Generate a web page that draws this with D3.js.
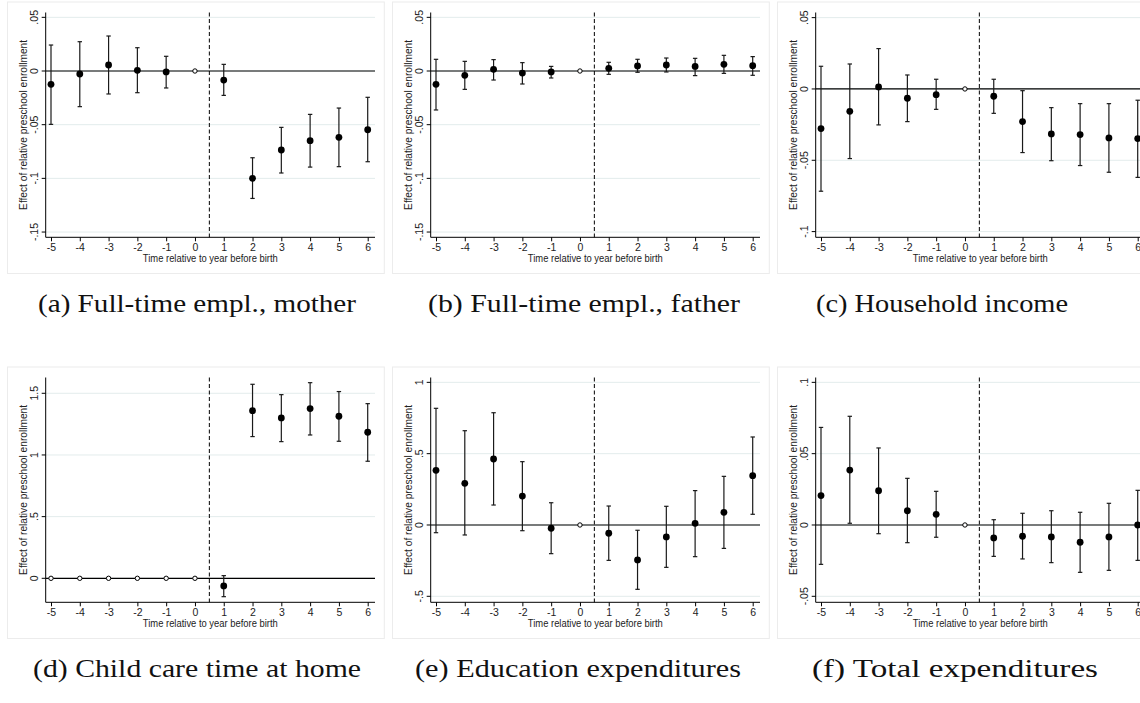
<!DOCTYPE html>
<html><head><meta charset="utf-8">
<script src="https://cdn.jsdelivr.net/npm/d3@7"></script>
<style>body{margin:0;background:#fff}svg{display:block}</style>
</head><body>
<svg id="c" width="1140" height="703"></svg>
<script>
// ---------- data ----------
const years = [-5,-4,-3,-2,-1,0,1,2,3,4,5,6];
const xTickLabels = ["-5","-4","-3","-2","-1","0","1","2","3","4","5","6"];
const xTitle = "Time relative to year before birth";
const yTitle = "Effect of relative preschool enrollment";

// (a) Full-time employment, mother
const coefA = [-0.0124,-0.0028,0.0056,0.0006,-0.0009,0,-0.0084,-0.100,-0.0736,-0.0649,-0.0618,-0.0547];
const lowA  = [-0.0497,-0.0332,-0.0214,-0.0202,-0.0158,null,-0.0227,-0.1187,-0.095,-0.0895,-0.0891,-0.0845];
const highA = [0.0242,0.0273,0.0326,0.0217,0.0137,null,0.0062,-0.0808,-0.0525,-0.0404,-0.0345,-0.0245];
// (b) Full-time employment, father
const coefB = [-0.0124,-0.004,0.0016,-0.0019,-0.0009,0,0.0025,0.0047,0.0056,0.0043,0.0062,0.005];
const lowB  = [-0.0363,-0.0171,-0.0084,-0.0121,-0.0065,null,-0.0031,-0.0012,-0.0009,-0.0043,-0.0022,-0.004];
const highB = [0.0109,0.009,0.0106,0.0078,0.0043,null,0.0081,0.0109,0.0121,0.0118,0.0146,0.0134];
// (c) Household income
const coefC = [-0.0278,-0.0157,0.0014,-0.0065,-0.004,0,-0.0051,-0.0229,-0.0315,-0.032,-0.0343,-0.0348];
const lowC  = [-0.0717,-0.0488,-0.0252,-0.0229,-0.0143,null,-0.0171,-0.0446,-0.0503,-0.0537,-0.0584,-0.062];
const highC = [0.0159,0.0175,0.0283,0.0098,0.0068,null,0.0068,-0.0012,-0.0131,-0.0103,-0.0103,-0.0079];
// (d) Child care time at home
const coefD = [0,0,0,0,0,0,-0.062,1.359,1.30,1.376,1.314,1.184];
const lowD  = [null,null,null,null,null,null,-0.149,1.149,1.108,1.162,1.111,0.949];
const highD = [null,null,null,null,null,null,0.0216,1.573,1.489,1.586,1.514,1.416];
// (e) Education expenditures
const coefE = [0.383,0.292,0.4625,0.203,-0.023,0,-0.058,-0.245,-0.084,0.012,0.089,0.346];
const lowE  = [-0.054,-0.070,0.140,-0.040,-0.201,null,-0.248,-0.451,-0.297,-0.222,-0.164,0.075];
const highE = [0.818,0.661,0.787,0.444,0.156,null,0.133,-0.037,0.131,0.241,0.341,0.617];
// (f) Total expenditures
const coefF = [0.0206,0.0385,0.024,0.010,0.0075,0,-0.0091,-0.0079,-0.0084,-0.0121,-0.0084,0];
const lowF  = [-0.0276,0.0012,-0.0061,-0.0124,-0.0086,null,-0.022,-0.0238,-0.0264,-0.0332,-0.0318,-0.0248];
const highF = [0.0684,0.0762,0.054,0.0327,0.0236,null,0.0037,0.0082,0.010,0.0089,0.0152,0.0243];

const yTicksA = [0.05,0,-0.05,-0.1,-0.15], yLabelsA = [".05","0","-.05","-.1","-.15"];
const yTicksC = [0.05,0,-0.05,-0.1],       yLabelsC = [".05","0","-.05","-.1"];
const yTicksD = [0,0.5,1,1.5],             yLabelsD = ["0",".5","1","1.5"];
const yTicksE = [1,0.5,0,-0.5],            yLabelsE = ["1",".5","0","-.5"];
const yTicksF = [0.1,0.05,0,-0.05],        yLabelsF = [".1",".05","0","-.05"];

const captions = ["(a) Full-time empl., mother","(b) Full-time empl., father","(c) Household income",
                  "(d) Child care time at home","(e) Education expenditures","(f) Total expenditures"];

// ---------- layout ----------
const panels = [
  {coef:coefA, low:lowA, high:highA, ticks:yTicksA, labels:yLabelsA, dom:[-0.1549,0.0545], col:0,row:0, cap:{cx:197,w:318}},
  {coef:coefB, low:lowB, high:highB, ticks:yTicksA, labels:yLabelsA, dom:[-0.1549,0.0545], col:1,row:0, cap:{cx:584,w:312}},
  {coef:coefC, low:lowC, high:highC, ticks:yTicksC, labels:yLabelsC, dom:[-0.104,0.0536],  col:2,row:0, cap:{cx:942,w:252}},
  {coef:coefD, low:lowD, high:highD, ticks:yTicksD, labels:yLabelsD, dom:[-0.1946,1.628],  col:0,row:1, cap:{cx:197,w:328}},
  {coef:coefE, low:lowE, high:highE, ticks:yTicksE, labels:yLabelsE, dom:[-0.542,1.034],   col:1,row:1, cap:{cx:578,w:326}},
  {coef:coefF, low:lowF, high:highF, ticks:yTicksF, labels:yLabelsF, dom:[-0.0542,0.1034], col:2,row:1, cap:{cx:955,w:286}}
];

const svg = d3.select("#c");
const colW = 385, rowH = 365;
const plotL = 45.7, plotR = 375, plotT = 12.5, plotB = 237.3;
const sans = "'Liberation Sans', Arial, sans-serif";

panels.forEach((p, i) => {
  const g = svg.append("g").attr("transform", `translate(${p.col*colW},${p.row*rowH})`);
  // graph region border
  g.append("rect").attr("x",7.5).attr("y",2).attr("width",376.8).attr("height",271.5)
    .attr("fill","none").attr("stroke","#ececec").attr("stroke-width",1);

  const x = d3.scaleLinear().domain([-5,6]).range([51,367.7]);
  const y = d3.scaleLinear().domain(p.dom).range([plotB,plotT]);

  // gridlines
  g.append("g").selectAll("line").data(p.ticks).join("line")
    .attr("x1",plotL).attr("x2",plotR).attr("y1",d=>y(d)).attr("y2",d=>y(d))
    .attr("stroke","#e3ecec").attr("stroke-width",1);

  // zero line
  g.append("line").attr("x1",plotL).attr("x2",plotR).attr("y1",y(0)).attr("y2",y(0))
    .attr("stroke","#000").attr("stroke-width",1.2);
  // dashed line at 0.5
  g.append("line").attr("x1",x(0.5)).attr("x2",x(0.5)).attr("y1",plotT).attr("y2",plotB)
    .attr("stroke","#000").attr("stroke-width",1).attr("stroke-dasharray","4,2.5");

  // axes
  const yAxis = g.append("g").attr("transform",`translate(${plotL},0)`)
    .call(d3.axisLeft(y).tickValues(p.ticks).tickSize(4).tickFormat((d,k)=>p.labels[k]));
  yAxis.select(".domain").remove();
  yAxis.selectAll(".tick").attr("transform","translate(0,0)");
  yAxis.selectAll(".tick line").attr("stroke","#000").attr("y1",d=>y(d)).attr("y2",d=>y(d)).attr("x2",-4);
  yAxis.selectAll(".tick text").attr("dy",0).attr("transform","rotate(-90)")
    .attr("text-anchor","middle").attr("font-family",sans).attr("font-size",10.5).attr("fill","#222")
    .each(function(d){ d3.select(this).attr("x", -y(d)).attr("y", -8); });

  g.append("line").attr("x1",plotL).attr("x2",plotL).attr("y1",plotT).attr("y2",plotB)
    .attr("stroke","#000").attr("stroke-width",1);

  const xAxis = g.append("g").attr("transform",`translate(0,${plotB})`)
    .call(d3.axisBottom(x).tickValues(years).tickSize(4).tickFormat((d,k)=>xTickLabels[k]));
  xAxis.select(".domain").remove();
  xAxis.selectAll(".tick line").attr("stroke","#000");
  xAxis.selectAll(".tick text").attr("font-family",sans).attr("font-size",10.5).attr("fill","#222")
    .attr("y",6).attr("dy","0.71em");
  g.append("line").attr("x1",plotL).attr("x2",plotR).attr("y1",plotB).attr("y2",plotB)
    .attr("stroke","#000").attr("stroke-width",1);

  // axis titles
  g.append("text").attr("x",(plotL+plotR)/2).attr("y",261.5).attr("text-anchor","middle")
    .attr("font-family",sans).attr("font-size",10).attr("fill","#222")
    .attr("textLength",135).attr("lengthAdjust","spacingAndGlyphs").text(xTitle);
  g.append("text").attr("transform",`translate(26.8,${(plotT+plotB)/2}) rotate(-90)`)
    .attr("text-anchor","middle").attr("font-family",sans).attr("font-size",10).attr("fill","#222")
    .attr("textLength",170).attr("lengthAdjust","spacingAndGlyphs").text(yTitle);

  // error bars
  const idx = years.map((d,k)=>k).filter(k=>p.low[k]!==null);
  const eb = g.append("g").attr("stroke","#1a1a1a").attr("stroke-width",1.2);
  eb.selectAll("line.v").data(idx).join("line").attr("class","v")
    .attr("x1",k=>x(years[k])).attr("x2",k=>x(years[k]))
    .attr("y1",k=>y(p.low[k])).attr("y2",k=>y(p.high[k]));
  eb.selectAll("line.t").data(idx).join("line").attr("class","t")
    .attr("x1",k=>x(years[k])-2.2).attr("x2",k=>x(years[k])+2.2)
    .attr("y1",k=>y(p.high[k])).attr("y2",k=>y(p.high[k]));
  eb.selectAll("line.b").data(idx).join("line").attr("class","b")
    .attr("x1",k=>x(years[k])-2.2).attr("x2",k=>x(years[k])+2.2)
    .attr("y1",k=>y(p.low[k])).attr("y2",k=>y(p.low[k]));

  // points
  g.append("g").selectAll("circle").data(years.map((d,k)=>k)).join("circle")
    .attr("cx",k=>x(years[k])).attr("cy",k=>y(p.coef[k]))
    .attr("r",k=>p.low[k]===null?2.2:3.4)
    .attr("fill",k=>p.low[k]===null?"#fff":"#000")
    .attr("stroke","#000").attr("stroke-width",k=>p.low[k]===null?1:0);

  // caption (absolute position)
  svg.append("text").attr("x",p.cap.cx).attr("y",p.row*rowH + 312)
    .attr("text-anchor","middle").attr("font-family","'Liberation Serif','Times New Roman',serif")
    .attr("font-size",25).attr("fill","#111")
    .attr("textLength",p.cap.w).attr("lengthAdjust","spacingAndGlyphs").text(captions[i]);
});
</script>
</body></html>
